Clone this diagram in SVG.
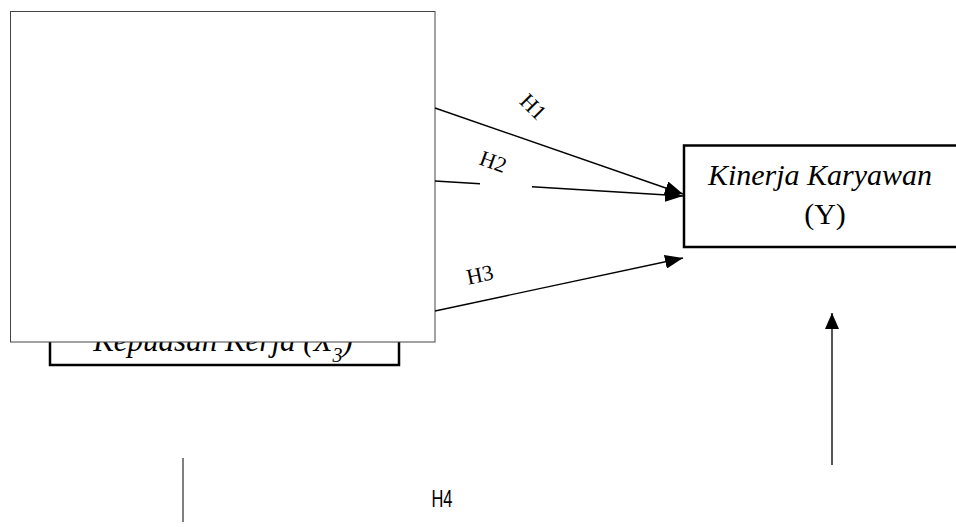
<svg xmlns="http://www.w3.org/2000/svg" width="956" height="527" viewBox="0 0 956 527">
  <style>
    .serif { font-family: "Liberation Serif", "Times New Roman", serif; fill: #000; }
    .it { font-style: italic; }
    .lbl { font-family: "Liberation Serif", "Times New Roman", serif; font-size: 22px; fill: #000; }
    .edge { stroke: #000; stroke-width: 1.4; fill: none; }
  </style>
  <defs>
    <marker id="arrow" viewBox="0 0 18 14" refX="18" refY="7" markerWidth="18" markerHeight="14" markerUnits="userSpaceOnUse" orient="auto">
      <path d="M0,0 L18,7 L0,14 Z" fill="#000"/>
    </marker>
    <marker id="arrowUp" viewBox="0 0 16 14" refX="16" refY="7" markerWidth="16" markerHeight="14" markerUnits="userSpaceOnUse" orient="auto">
      <path d="M0,0 L16,7 L0,14 Z" fill="#000"/>
    </marker>
  </defs>

  <rect width="956" height="527" fill="#fff"/>

  <!-- Kepuasan Kerja node (partly covered by the panel above it) -->
  <g id="node-x3">
    <rect x="50" y="300" width="349" height="65" fill="#fff" stroke="#000" stroke-width="2.5"/>
    <text class="serif it" x="223" y="351" font-size="31" text-anchor="middle">Kepuasan Kerja (X<tspan font-size="20" baseline-shift="sub">3</tspan>)</text>
  </g>

  <!-- blank panel -->
  <g id="panel">
    <rect x="10.5" y="11.5" width="424.5" height="330.5" fill="#fff" stroke="#444" stroke-width="1"/>
  </g>

  <!-- Kinerja Karyawan node -->
  <g id="node-y">
    <rect x="684" y="145.5" width="290" height="101.5" fill="#fff" stroke="#000" stroke-width="2.5"/>
    <text class="serif it" x="820" y="185" font-size="30" text-anchor="middle">Kinerja Karyawan</text>
    <text class="serif" x="825" y="224" font-size="30" text-anchor="middle">(Y)</text>
  </g>

  <!-- connectors -->
  <g id="connectors">
    <line class="edge" x1="435" y1="108" x2="683" y2="194" marker-end="url(#arrow)"/>
    <line class="edge" x1="435" y1="181" x2="480" y2="183.7"/>
    <line class="edge" x1="532" y1="186.8" x2="683" y2="196" marker-end="url(#arrow)"/>
    <line class="edge" x1="435" y1="311" x2="683" y2="258" marker-end="url(#arrow)"/>
    <line x1="832" y1="465" x2="832" y2="313" stroke="#555" stroke-width="2" marker-end="url(#arrowUp)"/>
    <line x1="183" y1="458" x2="183" y2="522" stroke="#000" stroke-width="1"/>
  </g>

  <!-- hypothesis labels -->
  <g id="labels">
    <text class="lbl" transform="translate(533,107) rotate(45)" text-anchor="middle" dy="7">H1</text>
    <text class="lbl" transform="translate(493,162) rotate(20)" text-anchor="middle" dy="7">H2</text>
    <text class="lbl" transform="translate(480,275) rotate(-12)" text-anchor="middle" dy="7">H3</text>
    <text x="442" y="507" font-family="'Liberation Sans', Arial, sans-serif" font-size="24" text-anchor="middle" textLength="21" lengthAdjust="spacingAndGlyphs">H4</text>
  </g>
</svg>
